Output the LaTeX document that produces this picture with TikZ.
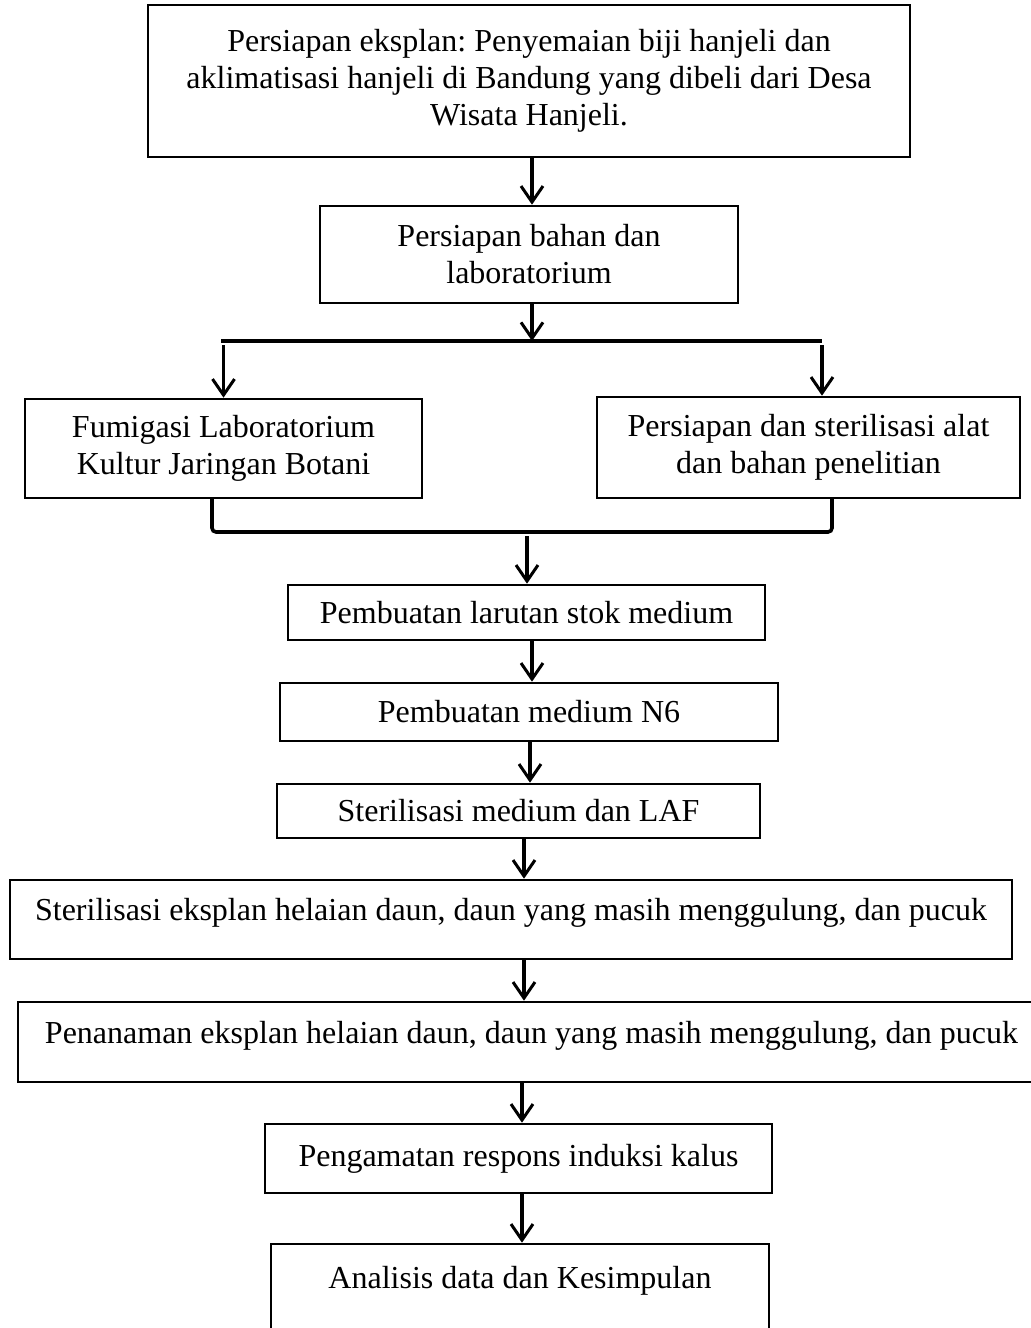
\documentclass[tikz,border=0pt]{standalone}
\usepackage{fontspec}
\setmainfont{Liberation Serif}
\usetikzlibrary{arrows.meta,positioning}
\frenchspacing

\tikzset{
  kotak/.style={draw,line width=1.3pt,align=center,inner sep=2pt,
    font=\fontsize{16}{18.5}\selectfont},
  panah/.style={-{Straight Barb[length=8pt,width=11pt,line width=1.5pt]},line width=1.6pt},
  garis/.style={line width=2pt}
}

\begin{document}
\begin{tikzpicture}[x=0.5pt,y=-0.5pt]
\useasboundingbox (0,0) rectangle (1030,1328);

\node[kotak,minimum width=381pt,minimum height=76pt] (eksplan) at (529,81)
  {Persiapan eksplan: Penyemaian biji hanjeli dan\\aklimatisasi hanjeli di Bandung yang dibeli dari Desa\\Wisata Hanjeli.};
\node[kotak,minimum width=209pt,minimum height=48.5pt] (bahan) at (529,254.5)
  {Persiapan bahan dan\\laboratorium};
\node[kotak,minimum width=198.5pt,minimum height=49.5pt] (fumigasi) at (223.5,448.5)
  {Fumigasi Laboratorium\\Kultur Jaringan Botani};
\node[kotak,minimum width=211.5pt,minimum height=50.5pt] (alat) at (808.5,447.5)
  {Persiapan dan sterilisasi alat\\dan bahan penelitian};
\node[kotak,minimum width=238.5pt,minimum height=27.5pt] (stok) at (526.5,612.5)
  {Pembuatan larutan stok medium};
\node[kotak,minimum width=249pt,minimum height=29pt] (medium) at (529,712)
  {Pembuatan medium N6};
\node[kotak,minimum width=241.5pt,minimum height=27pt] (laf) at (518.5,811)
  {Sterilisasi medium dan LAF};
\node[kotak,minimum width=501pt,minimum height=39.5pt,text height=10pt,text depth=9pt] (steril) at (511,919.5)
  {Sterilisasi eksplan helaian daun, daun yang masih menggulung, dan pucuk};
\node[kotak,minimum width=513.5pt,minimum height=40pt,text height=10pt,text depth=9pt] (tanam) at (531.5,1042)
  {Penanaman eksplan helaian daun, daun yang masih menggulung, dan pucuk};
\node[kotak,minimum width=253.5pt,minimum height=34.5pt] (amati) at (518.5,1158.5)
  {Pengamatan respons induksi kalus};
\node[kotak,minimum width=249pt,minimum height=48pt,text height=10pt,text depth=14pt] (analisis) at (520,1292)
  {Analisis data dan Kesimpulan};

% percabangan
\coordinate (cabangL) at (221,341);
\coordinate (cabangR) at (822,341);
\coordinate (gabung) at (527,536);
\draw[garis] (cabangL) -- (cabangR);
\draw[line width=1.8pt,rounded corners=2pt]
  (212,498) -- (212,532) -- (832,532) -- (832,498);

\path [panah]
  (eksplan.south -| 532,0) edge (bahan.north -| 532,0)
  (bahan.south -| 532,0) edge (cabangL -| 532,0)
  ([yshift=-2pt]cabangL -| fumigasi.north) edge (fumigasi.north)
  ([yshift=-2pt]cabangR) edge (cabangR |- alat.north)
  (gabung) edge (gabung |- stok.north)
  (stok.south -| 532,0) edge (medium.north -| 532,0)
  (medium.south -| 530,0) edge (laf.north -| 530,0)
  (laf.south -| 524,0) edge (steril.north -| 524,0)
  (steril.south -| 524,0) edge (tanam.north -| 524,0)
  (tanam.south -| 522,0) edge (amati.north -| 522,0)
  (amati.south -| 522,0) edge (analisis.north -| 522,0);
\end{tikzpicture}
\end{document}
